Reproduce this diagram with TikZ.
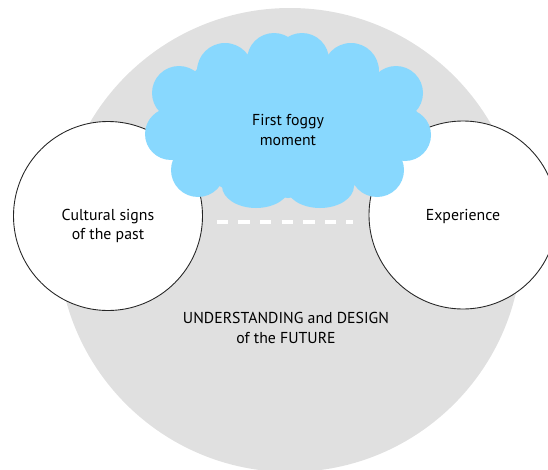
\documentclass[tikz,border=0pt]{standalone}
\usepackage{fontspec}
\setmainfont{PT Sans}

\definecolor{fogblue}{RGB}{136,216,254}
\definecolor{discgrey}{RGB}{224,224,224}

\begin{document}
\begin{tikzpicture}[x=0.02cm, y=-0.02cm,
  txt/.style={font=\fontsize{9}{11.2}\selectfont, align=center, text=black, inner sep=0pt},
  sign/.style={fill=white, draw=black!85, line width=0.5pt}]
  \useasboundingbox (0,0) rectangle (548,470);

  % big background disc
  \fill[discgrey] (290,240) circle (232);

  % the two side discs
  \draw[sign] (108,216) circle (94.5);
  \draw[sign] (463,215) circle (94);

  % cloud: body plus bumps round it
  \fill[fogblue] (198,68) -- (253,53) -- (322,53) -- (375,68) -- (417,112)
    -- (400,158) -- (350,188) -- (288,198) -- (223,188) -- (173,158)
    -- (160,112) -- cycle;
  \foreach \cx/\cy/\r in {274/60/27, 302/60/27, 225/71/28, 351/71/28,
                          179/93/27, 396/93/27, 171/134/26, 405/135/26,
                          198/170/27, 377/170/27}
    \fill[fogblue] (\cx,\cy) circle (\r);
  \fill[fogblue] (256,186) ellipse (34 and 22);
  \fill[fogblue] (320,186) ellipse (34 and 22);

  % dashed gap under the cloud
  \coordinate (gapL) at (216.7,221.7);
  \coordinate (gapR) at (352.7,221.7);
  \draw[white, line width=2.4pt, dash pattern=on 6.5pt off 5.8pt] (gapL) -- (gapR);

  % labels
  \node[txt] (past) at (108,226) {Cultural signs\\of the past};
  \node[txt] (exp) at (463,216) {Experience};
  \node[txt] (foggy) at (288,130) {First foggy\\moment};
  \node[txt] (future) at (286,328) {UNDERSTANDING and DESIGN\\of the FUTURE};
\end{tikzpicture}
\end{document}
